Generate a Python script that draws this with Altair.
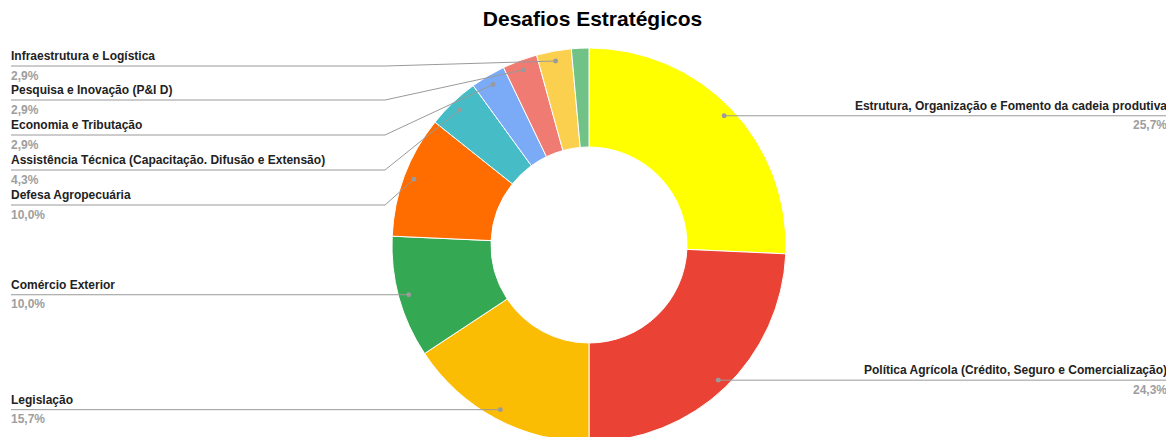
import math
import altair as alt
import pandas as pd

# ---------------- data ----------------
categories = [
    "Estrutura, Organização e Fomento da cadeia produtiva",
    "Política Agrícola (Crédito, Seguro e Comercialização)",
    "Legislação",
    "Comércio Exterior",
    "Defesa Agropecuária",
    "Assistência Técnica (Capacitação. Difusão e Extensão)",
    "Economia e Tributação",
    "Pesquisa e Inovação (P&I D)",
    "Infraestrutura e Logística",
    "Outros",
]
counts = [18, 17, 11, 7, 7, 3, 2, 2, 2, 1]
colors = ["#FFFF00", "#EA4335", "#FBBC04", "#34A853", "#FF6D01",
          "#46BDC6", "#7BAAF7", "#F07B72", "#FCD04F", "#71C287"]
chart_title = "Desafios Estratégicos"

# ---------------- layout ----------------
OFF = 8
W, H = 1158, 429
CX, CY = 589 - OFF, 245 - OFF
R_OUT, R_IN, R_DOT = 197, 98, 187
label_side = ["right", "right", "left", "left", "left", "left", "left", "left", "left", None]
label_row_y = [None, None, None, None, 205, 170, 135, 100, 66, None]  # None: row follows the dot
LEFT_X = 11 - OFF
RIGHT_X = 1167 - OFF
ELBOW_X = 385 - OFF
FONT = "Arial, Liberation Sans, sans-serif"
NAME_COLOR = "#222222"
PCT_COLOR = "#9e9e9e"
LINE_COLOR = "#9a9a9a"

total = sum(counts)
slices = pd.DataFrame({"cat": categories, "value": counts, "idx": list(range(len(counts)))})

line_rows, dot_rows, text_rows = [], [], []
cum = 0
for i, (cat, v) in enumerate(zip(categories, counts)):
    mid = (cum + v / 2) / total * 2 * math.pi
    cum += v
    side = label_side[i]
    if side is None:
        continue
    dx = CX + R_DOT * math.sin(mid)
    dy = CY - R_DOT * math.cos(mid)
    dot_rows.append({"px": dx, "py": dy})
    ly = dy if label_row_y[i] is None else label_row_y[i] - OFF
    pct = f"{v / total * 100:.1f}%".replace(".", ",")
    if side == "right":
        pts = [(RIGHT_X, ly), (dx, dy)]
        tx = RIGHT_X
    else:
        if label_row_y[i] is None:
            pts = [(LEFT_X, ly), (dx, dy)]
        else:
            pts = [(LEFT_X, ly), (ELBOW_X, ly), (dx, dy)]
        tx = LEFT_X
    for k, (x, y) in enumerate(pts):
        line_rows.append({"lab": cat, "k": k, "px": x, "py": y})
    text_rows.append({"px": tx, "py": ly - 10, "txt": cat, "col": NAME_COLOR, "side": side})
    text_rows.append({"px": tx, "py": ly + 9.5, "txt": pct, "col": PCT_COLOR, "side": side})

lines_df = pd.DataFrame(line_rows)
dots_df = pd.DataFrame(dot_rows)
text_df = pd.DataFrame(text_rows)

X = lambda: alt.X("px:Q", scale=None, axis=None)
Y = lambda: alt.Y("py:Q", scale=None, axis=None)

arcs = alt.Chart(slices).mark_arc(
    innerRadius=R_IN, outerRadius=R_OUT, stroke="white", strokeWidth=1
).encode(
    theta=alt.Theta("value:Q", stack=True),
    color=alt.Color("cat:N", scale=alt.Scale(domain=categories, range=colors), legend=None),
    order=alt.Order("idx:Q"),
    x=alt.value(CX),
    y=alt.value(CY),
)

lines = alt.Chart(lines_df).mark_line(color=LINE_COLOR, strokeWidth=1).encode(
    x=X(), y=Y(), detail="lab:N", order="k:Q"
)

dots = alt.Chart(dots_df).mark_circle(size=24, color=LINE_COLOR, opacity=1).encode(x=X(), y=Y())

left_text = alt.Chart(text_df).transform_filter(alt.datum.side == "left").mark_text(
    align="left", baseline="middle", font=FONT, fontSize=12, fontWeight="bold"
).encode(x=X(), y=Y(), text="txt:N", color=alt.Color("col:N", scale=None))

right_text = alt.Chart(text_df).transform_filter(alt.datum.side == "right").mark_text(
    align="right", baseline="middle", font=FONT, fontSize=12, fontWeight="bold"
).encode(x=X(), y=Y(), text="txt:N", color=alt.Color("col:N", scale=None))

title_df = pd.DataFrame({"px": [592.5 - OFF], "py": [20 - OFF], "txt": [chart_title]})
title = alt.Chart(title_df).mark_text(
    align="center", baseline="middle", font=FONT, fontSize=21, fontWeight="bold", color="#000000"
).encode(x=X(), y=Y(), text="txt:N")

chart = alt.layer(arcs, lines, dots, left_text, right_text, title).properties(
    width=W, height=H, padding=0, autosize=alt.AutoSizeParams(type="none")
).configure_view(stroke=None)

chart.save("out.html", embed_options={"renderer": "svg", "actions": False})
